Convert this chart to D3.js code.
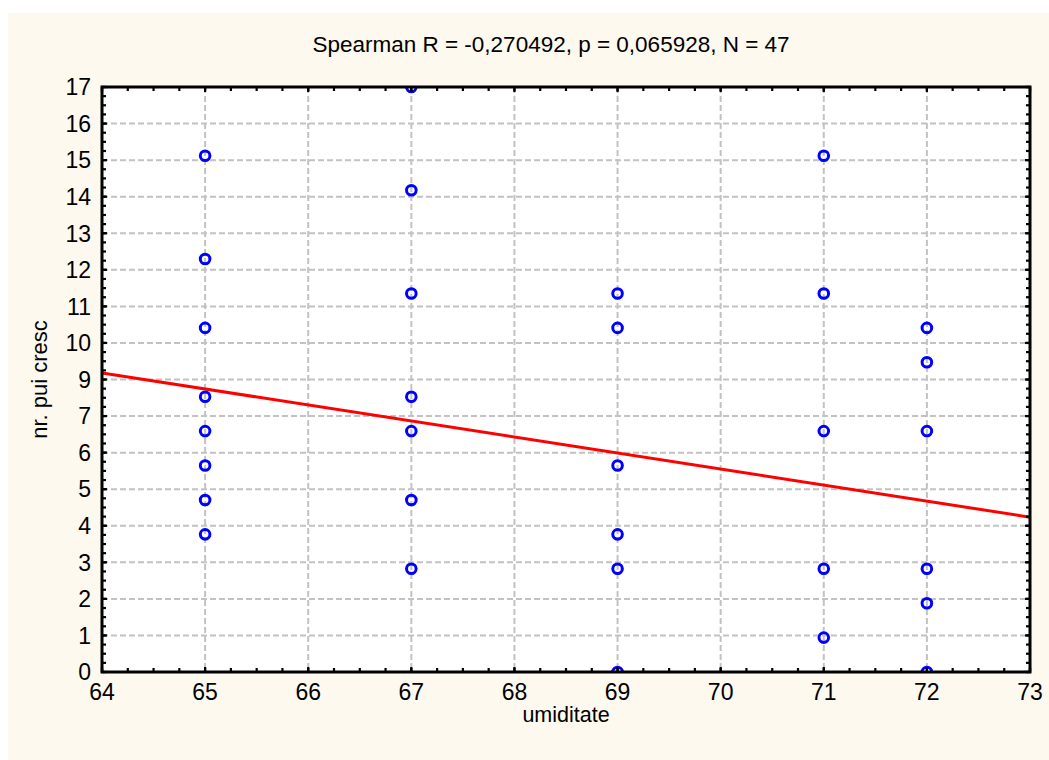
<!DOCTYPE html>
<html>
<head>
<meta charset="utf-8">
<script src="https://cdn.jsdelivr.net/npm/d3@7"></script>
<style>
  html, body { margin: 0; padding: 0; background: #ffffff; }
  svg { display: block; font-family: "Liberation Sans", Arial, sans-serif; }
</style>
</head>
<body>
<div id="chart"></div>
<script>
// values
const xValues = [65, 65, 65, 65, 65, 65, 65, 65,
                 67, 67, 67, 67, 67, 67, 67,
                 69, 69, 69, 69, 69, 69,
                 71, 71, 71, 71, 71,
                 72, 72, 72, 72, 72, 72]
const yValues = [15, 12, 10, 8, 7, 6, 5, 4,
                 17, 14, 11, 8, 7, 5, 3,
                 11, 10, 6, 4, 3, 0,
                 15, 11, 7, 3, 1,
                 10, 9, 7, 3, 2, 0]
const xTickLabels = [64, 65, 66, 67, 68, 69, 70, 71, 72, 73]
const yTickLabels = [0, 1, 2, 3, 4, 5, 6, 7, 9, 10, 11, 12, 13, 14, 15, 16, 17]
const fitX = [64, 73]
const fitY = [8.69, 4.50]
const title = "Spearman R = -0,270492, p = 0,065928, N = 47"
const xTitle = "umiditate"
const yTitle = "nr. pui cresc"

let width = 1049,
    height = 760
let margin = {left: 102, top: 87, right: 1030, bottom: 672}

let svg = d3.select('#chart')
    .append('svg')
    .attr("width", width)
    .attr("height", height)

svg.append("rect")
    .attr("x", 8).attr("y", 13)
    .attr("width", width - 8).attr("height", height - 13)
    .attr("fill", "#fdf9ef")

let x = d3.scaleLinear().domain([64, 73]).range([margin.left, margin.right])
let y = d3.scaleLinear().domain([0, 17]).range([margin.bottom, margin.top])

// y ticks: 16 equal steps over 0..17, labels rounded as in the source
let nY = yTickLabels.length - 1
let yTicks = d3.range(nY + 1).map(k => k * 17 / nY)
let yMinor = d3.range(nY * 4 + 1).map(k => k * 17 / (nY * 4))
let xMinor = d3.range(9 * 4 + 1).map(k => 64 + k / 4)

svg.append("rect")
    .attr("x", margin.left).attr("y", margin.top)
    .attr("width", margin.right - margin.left)
    .attr("height", margin.bottom - margin.top)
    .attr("fill", "white")

svg.append("clipPath").attr("id", "plotclip")
    .append("rect")
    .attr("x", margin.left).attr("y", margin.top)
    .attr("width", margin.right - margin.left)
    .attr("height", margin.bottom - margin.top)

let grid = svg.append("g")
    .attr("stroke", "#c2c2c2")
    .attr("stroke-width", 2)
    .attr("stroke-dasharray", "6,3")

grid.selectAll(".vgrid")
    .data(xTickLabels.slice(1, -1))
    .enter().append("line")
    .attr("x1", d => x(d)).attr("x2", d => x(d))
    .attr("y1", margin.top).attr("y2", margin.bottom)

grid.selectAll(".hgrid")
    .data(yTicks.slice(1, -1))
    .enter().append("line")
    .attr("x1", margin.left).attr("x2", margin.right)
    .attr("y1", d => y(d)).attr("y2", d => y(d))

let plot = svg.append("g").attr("clip-path", "url(#plotclip)")

plot.append("line")
    .attr("x1", x(fitX[0])).attr("y1", y(fitY[0]))
    .attr("x2", x(fitX[1])).attr("y2", y(fitY[1]))
    .attr("stroke", "#ff0000")
    .attr("stroke-width", 3)

plot.selectAll(".pt")
    .data(xValues)
    .enter().append("circle")
    .attr("class", "pt")
    .attr("cx", d => x(d))
    .attr("cy", (d, i) => y(yValues[i]))
    .attr("r", 4.8)
    .attr("fill", "none")
    .attr("stroke", "#0000ff")
    .attr("stroke-width", 3)

// inward ticks on all four sides
let ticks = svg.append("g").attr("stroke", "black").attr("stroke-width", 2.2)

function xTickMarks(data, len) {
    ticks.selectAll(null).data(data).enter().append("line")
        .attr("x1", d => x(d)).attr("x2", d => x(d))
        .attr("y1", margin.bottom).attr("y2", margin.bottom - len)
    ticks.selectAll(null).data(data).enter().append("line")
        .attr("x1", d => x(d)).attr("x2", d => x(d))
        .attr("y1", margin.top).attr("y2", margin.top + len)
}
function yTickMarks(data, len) {
    ticks.selectAll(null).data(data).enter().append("line")
        .attr("y1", d => y(d)).attr("y2", d => y(d))
        .attr("x1", margin.left).attr("x2", margin.left + len)
    ticks.selectAll(null).data(data).enter().append("line")
        .attr("y1", d => y(d)).attr("y2", d => y(d))
        .attr("x1", margin.right).attr("x2", margin.right - len)
}
xTickMarks(xMinor, 4)
xTickMarks(xTickLabels, 5)
yTickMarks(yMinor, 4)
yTickMarks(yTicks, 5)

svg.append("rect")
    .attr("x", margin.left).attr("y", margin.top)
    .attr("width", margin.right - margin.left)
    .attr("height", margin.bottom - margin.top)
    .attr("fill", "none")
    .attr("stroke", "black")
    .attr("stroke-width", 3)

svg.selectAll(".xlab")
    .data(xTickLabels)
    .enter().append("text")
    .attr("x", d => x(d))
    .attr("y", 700)
    .attr("text-anchor", "middle")
    .attr("font-size", 23)
    .attr("fill", "black")
    .text(d => d)

svg.selectAll(".ylab")
    .data(yTicks)
    .enter().append("text")
    .attr("x", 91)
    .attr("y", d => y(d))
    .attr("dy", "0.36em")
    .attr("text-anchor", "end")
    .attr("font-size", 23)
    .attr("fill", "black")
    .text((d, i) => yTickLabels[i])

svg.append("text")
    .attr("x", 551).attr("y", 52)
    .attr("text-anchor", "middle")
    .attr("font-size", 22.5)
    .text(title)

svg.append("text")
    .attr("x", (margin.left + margin.right) / 2).attr("y", 722)
    .attr("text-anchor", "middle")
    .attr("font-size", 21.5)
    .text(xTitle)

svg.append("text")
    .attr("transform", "translate(47," + ((margin.top + margin.bottom) / 2) + ") rotate(-90)")
    .attr("text-anchor", "middle")
    .attr("font-size", 22)
    .text(yTitle)
</script>
</body>
</html>
